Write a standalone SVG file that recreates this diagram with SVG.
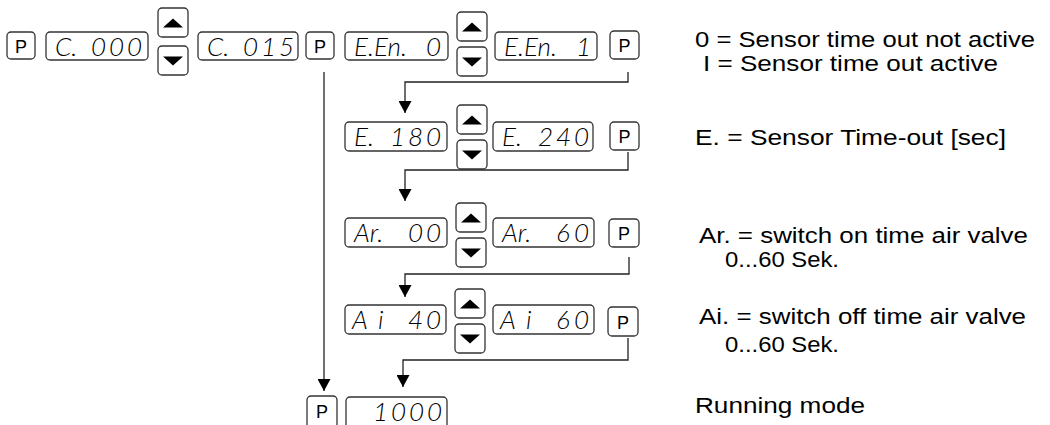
<svg xmlns="http://www.w3.org/2000/svg" width="1050" height="425" viewBox="0 0 1050 425">
<style>
  .box { fill: #fff; stroke: #333; stroke-width: 1.3; }
  .p { font-family: "Liberation Sans", Arial, sans-serif; font-size: 18px; fill: #000; text-anchor: middle; }
  .seg { font-family: "Lato", "Liberation Sans", sans-serif; font-style: italic; font-weight: 300; font-size: 26px; fill: #000; }
  .lbl { font-family: "Liberation Sans", Arial, sans-serif; font-size: 21.5px; fill: #000; }
  .conn { fill: none; stroke: #222; stroke-width: 1.3; marker-end: url(#ah); }
</style>
<defs>
  <marker id="ah" markerUnits="userSpaceOnUse" markerWidth="12" markerHeight="13" viewBox="0 0 12 13" refX="12" refY="6.5" orient="auto">
    <path d="M0,0 L12,6.5 L0,13 z" fill="#000"/>
  </marker>
  <g id="btnUp">
    <rect class="box" x="0" y="0" width="30" height="29" rx="4"/>
    <path d="M5,19.5 L25,19.5 L15,10.5 z" fill="#000"/>
  </g>
  <g id="btnDown">
    <rect class="box" x="0" y="0" width="30" height="29" rx="4"/>
    <path d="M5,10.5 L25,10.5 L15,19.5 z" fill="#000"/>
  </g>
</defs>
<rect width="1050" height="425" fill="#fff"/>

<g id="connectors">
  <path class="conn" d="M324,72 V391"/>
  <path class="conn" d="M628,72 V82 H405 V113"/>
  <path class="conn" d="M628,152 V170 H405 V201"/>
  <path class="conn" d="M629,257 V274 H405 V297"/>
  <path class="conn" d="M628,338 V360 H403 V387"/>
</g>

<!-- Row 1 -->
<g id="p1"><rect class="box" x="7" y="32" width="28" height="27" rx="4"/><text class="p" x="21" y="52.5">P</text></g>
<g id="d1"><rect class="box" x="46" y="32" width="102" height="28" rx="4"/><text class="seg" x="55" y="56">C.<tspan x="91 109 127">000</tspan></text></g>
<g id="b1"><use href="#btnUp" x="158" y="8"/><use href="#btnDown" x="158" y="46"/></g>
<g id="d2"><rect class="box" x="198" y="32" width="100" height="28" rx="4"/><text class="seg" x="207" y="56">C.<tspan x="243 261 279">015</tspan></text></g>
<g id="p2"><rect class="box" x="306" y="32" width="28" height="27" rx="4"/><text class="p" x="320" y="52.5">P</text></g>
<g id="d3"><rect class="box" x="345" y="32" width="103" height="28" rx="4"/><text class="seg" x="354" y="56">E.En.<tspan x="426">0</tspan></text></g>
<g id="b2"><use href="#btnUp" x="457" y="12"/><use href="#btnDown" x="457" y="47"/></g>
<g id="d4"><rect class="box" x="495" y="32" width="102" height="28" rx="4"/><text class="seg" x="504" y="56">E.En.<tspan x="576">1</tspan></text></g>
<g id="p3"><rect class="box" x="610" y="31" width="29" height="28" rx="4"/><text class="p" x="624.5" y="52">P</text></g>

<!-- Row 2 -->
<g id="d5"><rect class="box" x="345" y="122" width="102" height="29" rx="4"/><text class="seg" x="354" y="146">E.<tspan x="390 408 426">180</tspan></text></g>
<g id="b3"><use href="#btnUp" x="457" y="105"/><use href="#btnDown" x="457" y="140"/></g>
<g id="d6"><rect class="box" x="493" y="122" width="100" height="29" rx="4"/><text class="seg" x="502" y="146">E.<tspan x="538 556 574">240</tspan></text></g>
<g id="p4"><rect class="box" x="610" y="122" width="29" height="28" rx="4"/><text class="p" x="624.5" y="143">P</text></g>

<!-- Row 3 -->
<g id="d7"><rect class="box" x="345" y="218" width="102" height="29" rx="4"/><text class="seg" x="354" y="242">Ar.<tspan x="408 426">00</tspan></text></g>
<g id="b4"><use href="#btnUp" x="456" y="203"/><use href="#btnDown" x="456" y="238"/></g>
<g id="d8"><rect class="box" x="493" y="218" width="101" height="29" rx="4"/><text class="seg" x="502" y="242">Ar.<tspan x="556 574">60</tspan></text></g>
<g id="p5"><rect class="box" x="609" y="219" width="30" height="28" rx="4"/><text class="p" x="624" y="240">P</text></g>

<!-- Row 4 -->
<g id="d9"><rect class="box" x="345" y="305" width="101" height="29" rx="4"/><text class="seg" x="352 378" y="329">Ai<tspan x="408 426">40</tspan></text></g>
<g id="b5"><use href="#btnUp" x="455" y="289"/><use href="#btnDown" x="455" y="324"/></g>
<g id="d10"><rect class="box" x="493" y="305" width="101" height="29" rx="4"/><text class="seg" x="500 526" y="329">Ai<tspan x="556 574">60</tspan></text></g>
<g id="p6"><rect class="box" x="608" y="307" width="30" height="29" rx="4"/><text class="p" x="623" y="328.5">P</text></g>

<!-- Row 5 -->
<g id="p7"><rect class="box" x="307" y="396" width="30" height="32" rx="4"/><text class="p" x="322" y="417.5">P</text></g>
<g id="d11"><rect class="box" x="346" y="397" width="101" height="32" rx="4"/><text class="seg" x="373" y="421">1<tspan x="391 409 427">000</tspan></text></g>

<!-- Labels -->
<g id="labels">
  <text class="lbl" x="695" y="47" textLength="340" lengthAdjust="spacingAndGlyphs">0 = Sensor time out not active</text>
  <text class="lbl" x="703" y="71" textLength="295" lengthAdjust="spacingAndGlyphs">I = Sensor time out active</text>
  <text class="lbl" x="695" y="145" textLength="311" lengthAdjust="spacingAndGlyphs">E. = Sensor Time-out [sec]</text>
  <text class="lbl" x="699" y="243" textLength="329" lengthAdjust="spacingAndGlyphs">Ar. = switch on time air valve</text>
  <text class="lbl" x="725" y="267" textLength="114" lengthAdjust="spacingAndGlyphs">0...60 Sek.</text>
  <text class="lbl" x="699" y="324" textLength="327" lengthAdjust="spacingAndGlyphs">Ai. = switch off time air valve</text>
  <text class="lbl" x="725" y="352" textLength="114" lengthAdjust="spacingAndGlyphs">0...60 Sek.</text>
  <text class="lbl" x="695" y="413" textLength="170" lengthAdjust="spacingAndGlyphs">Running mode</text>
</g>
</svg>
